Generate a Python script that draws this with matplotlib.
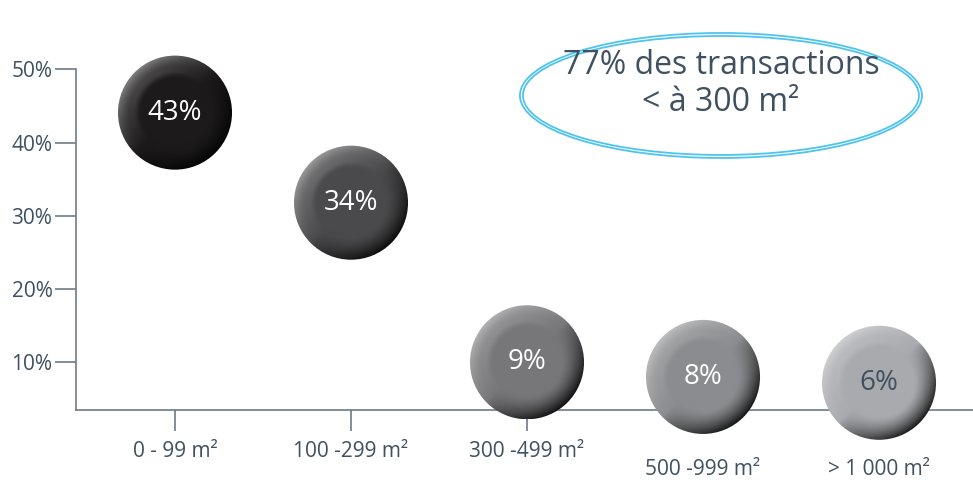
import numpy as np
from matplotlib import pyplot as plt
from matplotlib.patches import Ellipse
from matplotlib.colors import to_rgb

plt.rcParams['font.family'] = ['Open Sans', 'DejaVu Sans']

# data
categories = ["0 - 99 m²", "100 -299 m²", "300 -499 m²", "500 -999 m²", "> 1 000 m²"]
shares = ["43%", "34%", "9%", "8%", "6%"]
y_pos = [44.1, 31.8, 10.0, 8.0, 7.2]  # bubble heights as drawn (%)
bubble_cols = ["#1c1a1b", "#4a4a4c", "#77777a", "#8b8c8f", "#a9aaae"]
label_cols = ["white", "white", "white", "white", "#3f5160"]
low_label = [False, False, False, True, True]

txt_col = "#3f5160"
axis_col = "#6d7b87"


def sphere(base, n=240):
    u = np.linspace(-1, 1, n)
    U, V = np.meshgrid(u, u[::-1])
    r = np.sqrt(U**2 + V**2)
    d = (-U + V) / np.sqrt(2) / np.maximum(r, 1e-6)
    rim = np.clip((r - 0.6) / 0.4, 0, 1) ** 1.4
    b = np.array(to_rgb(base))
    img = np.ones((n, n, 3)) * b
    lt = np.clip(d, 0, 1)[..., None] * rim[..., None]
    dk = np.clip(-d, 0, 1)[..., None] ** 0.7 * rim[..., None]
    img = img + (1 - img) * 0.45 * lt
    img = img * (1 - 0.88 * dk)
    # faint inner bevel
    ring = np.exp(-((r - 0.72) / 0.07) ** 2)[..., None]
    img = img + (1 - img) * 0.08 * ring * np.clip(d, 0, 1)[..., None]
    return np.clip(img, 0, 1)


fig = plt.figure(figsize=(9.73, 4.86), dpi=100)
ax = fig.add_axes([76 / 973, 0.0889, 897 / 973, 0.8134])

xs = np.arange(1, len(categories) + 1)
rx, ry = 0.324, 7.79

for x, y, s, c, lc in zip(xs, y_pos, shares, bubble_cols, label_cols):
    ell = Ellipse((x, y), 2 * rx, 2 * ry, facecolor="none", edgecolor="none")
    ax.add_patch(ell)
    im = ax.imshow(sphere(c), extent=[x - rx, x + rx, y - ry, y + ry],
                   aspect="auto", interpolation="bilinear", zorder=3)
    im.set_clip_path(ell)
    ax.text(x, y, s, ha="center", va="center", fontsize=20, color=lc, zorder=4)

ax.set_xlim(0.4375, 5.534)
ax.set_ylim(-1, 53)

ax.spines["top"].set_visible(False)
ax.spines["right"].set_visible(False)
ax.spines["bottom"].set_position(("data", 3.5))
ax.spines["left"].set_bounds(3.5, 50)
for sp in ("left", "bottom"):
    ax.spines[sp].set_color(axis_col)
    ax.spines[sp].set_linewidth(1.2)
    ax.spines[sp].set_zorder(1)

ax.set_yticks([10, 20, 30, 40, 50])
ax.set_yticklabels(["10%", "20%", "30%", "40%", "50%"])
ax.set_xticks(xs)
ax.set_xticklabels([])
ax.tick_params(axis="both", length=15, width=1.2, color=axis_col, direction="out")
ax.tick_params(axis="y", labelsize=15, labelcolor=txt_col, pad=2)

for x, lab, low in zip(xs, categories, low_label):
    ax.annotate(lab, xy=(x, 3.5), xytext=(0, -43 if low else -30),
                textcoords="offset points", ha="center", va="center",
                fontsize=15, color=txt_col, annotation_clip=False)

# callout ellipse
for w, h in [(402, 125), (396, 119)]:
    e = Ellipse((0.719, 0.8786), w / 897, h / 395.3, transform=ax.transAxes,
                facecolor="none", edgecolor="#4fc3ef", linewidth=1.3, clip_on=False)
    ax.add_patch(e)
ax.text(0.719, 0.955, "77% des transactions", transform=ax.transAxes,
        ha="center", va="center", fontsize=23, color=txt_col)
ax.text(0.719, 0.862, "< à 300 m²", transform=ax.transAxes,
        ha="center", va="center", fontsize=23, color=txt_col)

plt.savefig("out.png", dpi=100)
